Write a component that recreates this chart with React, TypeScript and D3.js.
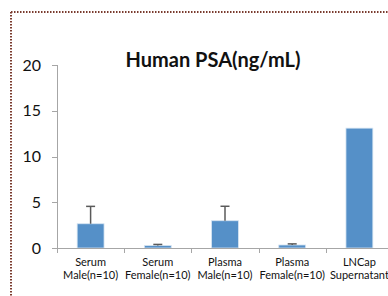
import React from "react";
import * as d3 from "d3";

// chart values
const categories = [
  ["Serum", "Male(n=10)"],
  ["Serum", "Female(n=10)"],
  ["Plasma", "Male(n=10)"],
  ["Plasma", "Female(n=10)"],
  ["LNCap", "Supernatant"],
];
const means = [2.65, 0.27, 2.98, 0.33, 13.1];
const errors = [1.9, 0.12, 1.58, 0.12, 0];
const yTicks = [0, 5, 10, 15, 20];

const W = 388, H = 296;
const margin = { top: 65, right: -5, bottom: 48, left: 57 };

const font = "Lato, 'Open Sans', sans-serif";

const App = () => {
  const width = W - margin.left - margin.right;
  const yScale = d3.scaleLinear().domain([0, 20]).range([H - margin.bottom, margin.top]);
  const xScale = d3
    .scaleBand()
    .domain(categories.map((d, i) => String(i)))
    .range([margin.left, margin.left + width])
    .paddingInner(0)
    .paddingOuter(0);
  const bw = xScale.bandwidth();
  const barW = bw * 0.4;
  const y0 = yScale(0);

  return (
    <svg width={W} height={H} style={{ position: "absolute", left: 0, top: 0, background: "#fff" }}>
      {/* dotted frame */}
      <line x1={11} y1={12} x2={W} y2={12} stroke="#7a3b2e" strokeWidth={2} strokeDasharray="1.5 1.5" />
      <line x1={11} y1={12} x2={11} y2={H} stroke="#7a3b2e" strokeWidth={2} strokeDasharray="1.5 1.5" />

      <text x={213} y={67} textAnchor="middle" fontFamily={font} fontWeight={700} fontSize={20} fill="#111">
        Human PSA(ng/mL)
      </text>

      {/* y axis */}
      <line x1={margin.left + 0.5} x2={margin.left + 0.5} y1={yScale(20)} y2={y0} stroke="#a6a6a6" />
      {yTicks.map((t) => (
        <g key={t}>
          <line x1={margin.left - 5} x2={margin.left} y1={Math.round(yScale(t)) + 0.5} y2={Math.round(yScale(t)) + 0.5} stroke="#a6a6a6" />
          <text x={41} y={yScale(t) + 5.5} textAnchor="end" fontFamily={font} fontSize={16} fill="#111">
            {t}
          </text>
        </g>
      ))}

      {/* bars */}
      {means.map((m, i) => {
        const cx = (xScale(String(i)) as number) + bw / 2;
        return (
          <g key={i}>
            <rect x={cx - barW / 2} y={yScale(m)} width={barW} height={y0 - yScale(m)} fill="#5590c8" stroke="#d6e4f2" strokeWidth={0.8} />
            {errors[i] > 0 && (
              <g stroke="#5a5a5a" strokeWidth={1.5}>
                <line x1={cx} x2={cx} y1={yScale(m)} y2={yScale(m + errors[i])} />
                <line x1={cx - 4.5} x2={cx + 4.5} y1={yScale(m + errors[i])} y2={yScale(m + errors[i])} />
              </g>
            )}
          </g>
        );
      })}

      {/* x axis */}
      <line x1={margin.left} x2={W} y1={Math.round(y0) + 0.5} y2={Math.round(y0) + 0.5} stroke="#a6a6a6" />
      {categories.map((c, i) => {
        const x = Math.round(xScale(String(i)) as number) + 0.5;
        const cx = (xScale(String(i)) as number) + bw / 2;
        return (
          <g key={i}>
            <line x1={x} x2={x} y1={y0} y2={y0 + 5} stroke="#a6a6a6" />
            <text x={cx} y={266} textAnchor="middle" fontFamily={font} fontSize={11} fill="#111">
              {c[0]}
            </text>
            <text x={cx} y={279} textAnchor="middle" fontFamily={font} fontSize={11} fill="#111">
              {c[1]}
            </text>
          </g>
        );
      })}
    </svg>
  );
};

export default App;
